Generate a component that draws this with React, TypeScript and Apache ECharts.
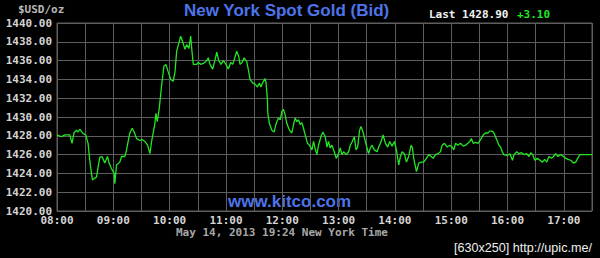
import React, { useEffect, useRef } from "react";
import * as echarts from "echarts";

// minutes after 08:00 (New York time)
const minutes = [
  0, 4.7, 8.2, 13.6, 16.0, 18.1, 20.7, 22.4, 24.2, 27.1, 30.6, 33.1, 34.9, 36.7, 37.8, 40.2, 42.1, 43.8, 45.6, 48.0,
  50.9, 53.8, 55.5, 58.1, 60.9, 61.6, 63.4, 66.9, 68.8, 72.3, 74.1, 75.8, 77.6, 80.1, 82.2, 84.8, 88.3, 90.7, 93.6, 96.5,
  99.0, 100.8, 102.5, 104.3, 105.4, 106.8, 108.9, 111.5, 113.9, 116.0, 118.5, 121.1, 123.8, 125.7, 127.5, 130.2, 131.7, 133.9, 136.3, 138.1,
  140.6, 142.4, 143.8, 145.2, 148.8, 150.5, 153.1, 155.9, 158.8, 161.2, 163.0, 165.9, 168.4, 170.2, 172.3, 174.8, 177.2, 180.1, 182.6, 185.1,
  187.3, 189.7, 191.5, 193.7, 195.0, 197.2, 199.3, 202.2, 203.9, 205.7, 208.6, 211.1, 213.5, 215.7, 217.1, 219.9, 221.7, 222.8, 224.2, 224.6,
  226.3, 228.9, 231.3, 233.5, 235.9, 237.8, 239.6, 241.3, 243.1, 244.9, 247.7, 250.2, 252.0, 253.8, 255.6, 257.3, 259.1, 260.9, 262.6, 264.4,
  266.9, 269.0, 271.6, 273.3, 275.1, 276.9, 278.6, 281.2, 283.3, 285.8, 287.6, 289.3, 291.1, 292.9, 295.4, 297.5, 300.0, 301.8, 303.6, 305.3,
  308.2, 310.7, 312.5, 314.6, 316.8, 318.6, 320.3, 322.4, 323.9, 326.0, 328.5, 330.3, 332.0, 333.8, 335.6, 338.1, 341.0, 342.7, 345.3, 347.4,
  349.9, 352.3, 354.5, 357.0, 359.5, 361.6, 363.0, 364.1, 365.9, 367.7, 370.1, 372.3, 374.7, 377.3, 378.7, 380.1, 381.9, 383.0, 385.4, 388.0,
  390.7, 393.6, 396.1, 398.6, 400.8, 403.2, 405.7, 408.5, 410.4, 412.8, 415.7, 418.5, 421.1, 422.8, 424.6, 427.0, 429.9, 432.8, 435.3, 437.7,
  439.9, 441.4, 443.5, 446.0, 448.4, 451.3, 454.2, 456.6, 459.1, 461.2, 463.8, 465.5, 468.4, 470.8, 472.6, 474.4, 476.2, 479.8, 482.6, 485.2,
  486.9, 489.8, 492.2, 494.8, 497.5, 500.4, 502.9, 504.7, 506.8, 509.0, 511.8, 514.6, 517.2, 519.6, 521.8, 524.2, 526.8, 528.9, 531.4, 533.8,
  536.7, 539.6, 542.1, 544.5, 547.4, 550.2, 552.7, 555.2, 557.3, 561.6, 570,
];

// bid price, $USD/oz
const prices = [
  1428.1, 1427.9, 1428.1, 1428.1, 1427.2, 1428.3, 1428.6, 1428.4, 1428.7, 1428.3, 1428.1, 1427.2, 1425.4, 1424.0, 1423.3, 1423.5, 1423.6, 1424.7, 1425.7, 1425.8,
  1425.1, 1425.8, 1425.1, 1424.5, 1424.0, 1422.9, 1424.9, 1425.2, 1425.8, 1425.8, 1426.5, 1427.4, 1428.3, 1428.8, 1428.4, 1427.7, 1427.5, 1427.6, 1427.4, 1427.0,
  1426.1, 1427.4, 1428.3, 1429.3, 1430.4, 1429.5, 1430.9, 1433.4, 1435.4, 1435.6, 1434.8, 1434.0, 1433.8, 1434.8, 1437.0, 1438.0, 1438.6, 1438.0, 1437.2, 1437.7,
  1437.3, 1438.6, 1437.0, 1435.6, 1435.6, 1435.8, 1435.6, 1435.7, 1435.9, 1436.3, 1435.6, 1435.1, 1436.1, 1436.9, 1436.0, 1435.6, 1436.0, 1435.6, 1435.1, 1435.8,
  1435.6, 1436.4, 1437.0, 1436.4, 1435.6, 1435.8, 1436.3, 1435.9, 1435.0, 1434.0, 1433.6, 1433.5, 1433.2, 1433.6, 1433.2, 1433.8, 1434.1, 1433.6, 1431.8, 1430.4,
  1429.3, 1428.6, 1428.4, 1429.3, 1429.9, 1429.7, 1430.6, 1430.8, 1430.2, 1429.3, 1428.6, 1428.3, 1429.2, 1429.9, 1429.5, 1429.7, 1429.2, 1429.4, 1428.8, 1428.1,
  1427.2, 1427.0, 1426.5, 1427.4, 1426.6, 1426.0, 1427.0, 1427.9, 1428.4, 1427.9, 1426.8, 1427.4, 1426.7, 1427.0, 1426.3, 1425.6, 1426.1, 1426.7, 1426.0, 1426.3,
  1426.0, 1426.3, 1427.0, 1427.4, 1427.9, 1426.5, 1426.8, 1428.6, 1429.0, 1428.4, 1427.4, 1426.7, 1426.1, 1426.7, 1427.0, 1426.5, 1426.3, 1426.8, 1427.4, 1428.1,
  1427.2, 1426.8, 1427.4, 1426.9, 1427.4, 1426.5, 1425.6, 1424.9, 1425.8, 1426.3, 1426.1, 1425.2, 1425.8, 1427.0, 1426.7, 1425.6, 1424.7, 1424.2, 1425.1, 1425.2,
  1425.2, 1425.6, 1426.0, 1425.8, 1425.6, 1426.0, 1426.1, 1426.3, 1427.0, 1427.2, 1426.8, 1427.0, 1426.8, 1426.5, 1427.2, 1427.0, 1427.2, 1426.9, 1427.0, 1427.2,
  1427.4, 1427.7, 1427.2, 1427.3, 1427.2, 1427.6, 1428.1, 1428.3, 1428.3, 1428.5, 1428.5, 1428.3, 1427.6, 1427.0, 1426.8, 1426.3, 1426.0, 1425.9, 1426.1, 1425.4,
  1426.0, 1426.3, 1426.1, 1426.2, 1426.0, 1426.1, 1425.8, 1426.2, 1426.0, 1425.4, 1425.6, 1425.4, 1425.2, 1425.5, 1425.2, 1425.8, 1425.6, 1425.8, 1426.1, 1425.8,
  1426.0, 1425.8, 1425.6, 1425.5, 1425.4, 1425.1, 1425.2, 1425.7, 1426.0, 1426.0, 1426.0,
];

const yMin = 1420;
const yMax = 1440;
const yStep = 2;
const xMax = 570; // 17:30
const xStep = 30;

const titleText = "New York Spot Gold (Bid)";
const lastLabel = "Last 1428.90";
const changeLabel = "+3.10";
const unitLabel = "$USD/oz";
const siteLabel = "www.kitco.com";
const stampLabel = "May 14, 2013 19:24 New York Time";
const footerLabel = "[630x250] http://upic.me/";

const MONO = '"DejaVu Sans Mono", "Liberation Mono", monospace';
const SANS = '"Liberation Sans", Arial, sans-serif';

export default function App() {
  const ref = useRef<HTMLDivElement>(null);
  useEffect(() => {
    if (!ref.current) return;
    const chart = echarts.init(ref.current, null, { renderer: "svg" });
    const data = minutes.map((m, i) => [m, prices[i]]);
    chart.setOption({
      animation: false,
      backgroundColor: "#000000",
      grid: {
        left: 57,
        right: 8,
        top: 23,
        bottom: 47,
        show: true,
        borderColor: "#5e5e5e",
        borderWidth: 1,
        backgroundColor: "transparent",
      },
      xAxis: {
        type: "value",
        min: 0,
        max: xMax,
        interval: xStep,
        axisLine: { show: false },
        axisTick: { show: false },
        splitLine: { show: true, lineStyle: { color: "#5e5e5e", width: 1 } },
        axisLabel: {
          color: "#d4d4d4",
          fontFamily: MONO,
          fontSize: 11,
          fontWeight: "bold",
          lineHeight: 11,
          margin: 4,
          showMaxLabel: true,
          formatter: (v: number) => {
            if (v % 60 !== 0) return "";
            const h = 8 + v / 60;
            return (h < 10 ? "0" : "") + h + ":00";
          },
        },
      },
      yAxis: {
        type: "value",
        min: yMin,
        max: yMax,
        interval: yStep,
        axisLine: { show: false },
        axisTick: { show: false },
        splitLine: { show: true, lineStyle: { color: "#5e5e5e", width: 1 } },
        axisLabel: {
          color: "#d4d4d4",
          fontFamily: MONO,
          fontSize: 11,
          fontWeight: "bold",
          margin: 5,
          formatter: (v: number) => v.toFixed(2),
        },
      },
      series: [
        {
          type: "line",
          data,
          showSymbol: false,
          symbol: "none",
          lineStyle: { color: "#22e622", width: 1.3 },
          z: 3,
        },
      ],
      graphic: [
        {
          type: "text",
          left: 184,
          top: 2,
          style: { text: titleText, fill: "#4d74ea", font: `bold 17px ${SANS}` },
        },
        {
          type: "text",
          left: 429,
          top: 9,
          style: { text: lastLabel, fill: "#f2f2f2", font: `bold 11px ${MONO}` },
        },
        {
          type: "text",
          left: 517,
          top: 9,
          style: { text: changeLabel, fill: "#22e622", font: `bold 11px ${MONO}` },
        },
        {
          type: "text",
          left: 18,
          top: 4,
          style: { text: unitLabel, fill: "#b8b8b8", font: `bold 11px ${MONO}` },
        },
        {
          type: "text",
          left: 228,
          top: 193,
          style: { text: siteLabel, fill: "#4d74ea", font: `bold 17px ${SANS}` },
        },
        {
          type: "text",
          left: 176,
          top: 227,
          style: { text: stampLabel, fill: "#a8a8a8", font: `bold 11px ${MONO}`, lineHeight: 11 },
        },
        {
          type: "text",
          left: 454,
          top: 241,
          style: { text: footerLabel, fill: "#f0f0f0", font: `12.6px ${SANS}` },
        },
      ],
    });
    return () => chart.dispose();
  }, []);
  return (
    <div
      ref={ref}
      style={{ position: "fixed", left: 0, top: 0, width: 600, height: 258, background: "#000" }}
    />
  );
}
